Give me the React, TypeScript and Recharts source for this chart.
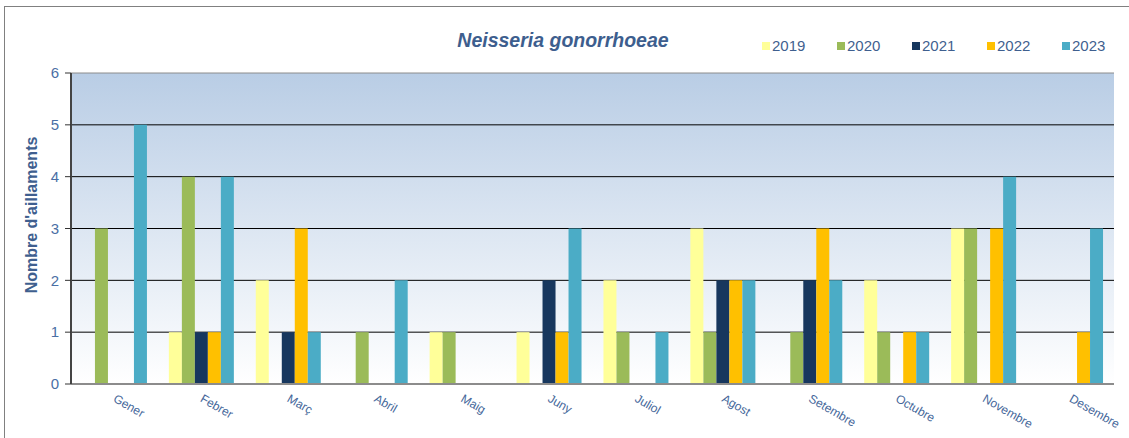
import { BarChart, Bar, XAxis, YAxis, CartesianGrid, ReferenceLine } from 'recharts';

const months = ['Gener', 'Febrer', 'Març', 'Abril', 'Maig', 'Juny', 'Juliol', 'Agost', 'Setembre', 'Octubre', 'Novembre', 'Desembre'];

const y2019 = [0, 1, 2, 0, 1, 1, 2, 3, 0, 2, 3, 0];
const y2020 = [3, 4, 0, 1, 1, 0, 1, 1, 1, 1, 3, 0];
const y2021 = [0, 1, 1, 0, 0, 2, 0, 2, 2, 0, 0, 0];
const y2022 = [0, 1, 3, 0, 0, 1, 0, 2, 3, 1, 3, 1];
const y2023 = [5, 4, 1, 2, 0, 3, 1, 2, 2, 1, 4, 3];

const yTicks = [0, 1, 2, 3, 4, 5, 6];
const boundaryTicks = [0, 1, 2, 3, 4, 5, 6, 7, 8, 9, 10, 11, 12];

const series = [
  { key: '2019', color: '#ffff99' },
  { key: '2020', color: '#9bbb59' },
  { key: '2021', color: '#17375e' },
  { key: '2022', color: '#ffc000' },
  { key: '2023', color: '#4bacc6' },
];

const data = months.map((m, i) => ({
  month: m,
  '2019': y2019[i],
  '2020': y2020[i],
  '2021': y2021[i],
  '2022': y2022[i],
  '2023': y2023[i],
}));

const textBlue = '#45679a';

const MonthTick = ({ x, y, payload }: any) => (
  <text
    x={x - 2}
    y={y + 9}
    transform={`rotate(30 ${x - 2} ${y + 9})`}
    textAnchor="start"
    fontSize={12}
    fontFamily="Liberation Sans, Arial, sans-serif"
    fill={textBlue}
  >
    {payload.value}
  </text>
);

export default function App() {
  return (
    <div style={{ position: 'absolute', left: 0, top: 0, width: 1129, height: 438, background: '#fff', fontFamily: 'Liberation Sans, Arial, sans-serif', overflow: 'hidden' }}>
      {/* outer frame */}
      <div style={{ position: 'absolute', left: 4, top: 6, width: 1130, height: 440, borderTop: '1px solid #808080', borderLeft: '1px solid #808080' }} />
      <span style={{ position: 'absolute', left: 563, top: 29, transform: 'translateX(-50%)', fontSize: 19.5, fontWeight: 'bold', fontStyle: 'italic', color: '#3d5e8e', whiteSpace: 'nowrap' }}>
        Neisseria gonorrhoeae
      </span>
      <div style={{ position: 'absolute', left: 762, top: 37, display: 'flex' }}>
        {series.map(s => (
          <div key={s.key} style={{ display: 'flex', alignItems: 'center', width: 75, fontSize: 15, color: '#3f5f8f' }}>
            <span style={{ display: 'inline-block', width: 8, height: 8, background: s.color, marginRight: 2 }} />
            {s.key}
          </div>
        ))}
      </div>
      <div style={{ position: 'absolute', left: 32, top: 215, transform: 'translate(-50%, -50%) rotate(-90deg)', fontSize: 16, fontWeight: 'bold', color: '#3f5f8f', whiteSpace: 'nowrap' }}>
        Nombre d'aillaments
      </div>
      <BarChart
        width={1129}
        height={438}
        data={data}
        margin={{ top: 73, right: 15, bottom: 0, left: 36 }}
        barCategoryGap="12.6%"
        barGap={0}
        style={{ position: 'absolute', left: 0, top: 0 }}
      >
        <defs>
          <linearGradient id="plotBg" x1="0" y1="0" x2="0" y2="1">
            <stop offset="0%" stopColor="#b9cde5" />
            <stop offset="100%" stopColor="#ffffff" />
          </linearGradient>
        </defs>
        <CartesianGrid
          fill="url(#plotBg)"
          fillOpacity={1}
          vertical={false}
          horizontalValues={[1, 2, 3, 4, 5]}
          stroke="#000"
          strokeWidth={1}
        />
        <XAxis
          xAxisId="bounds"
          type="number"
          domain={[0, 12]}
          ticks={boundaryTicks}
          height={0}
          tick={false}
          tickLine={{ stroke: '#555' }}
          tickSize={4}
          axisLine={false}
        />
        <XAxis
          dataKey="month"
          interval={0}
          height={54}
          tickLine={false}
          axisLine={{ stroke: '#8c8c8c', strokeWidth: 2 }}
          tick={<MonthTick />}
        />
        <YAxis
          domain={[0, 6]}
          ticks={yTicks}
          width={35}
          tick={{ fill: '#4a6fa5', fontSize: 15, fontFamily: 'Liberation Sans, Arial, sans-serif', dx: -4 }}
          tickLine={{ stroke: '#333' }}
          tickSize={6}
          axisLine={{ stroke: '#444', strokeWidth: 2 }}
        />
        <YAxis
          yAxisId="right"
          orientation="right"
          domain={[0, 6]}
          width={0}
          tick={false}
          tickLine={false}
          axisLine={{ stroke: '#8c8c8c', strokeWidth: 2 }}
        />
        <ReferenceLine y={6} stroke="#8c8c8c" />
        {series.map(s => (
          <Bar key={s.key} dataKey={s.key} fill={s.color} isAnimationActive={false} />
        ))}
      </BarChart>
    </div>
  );
}
